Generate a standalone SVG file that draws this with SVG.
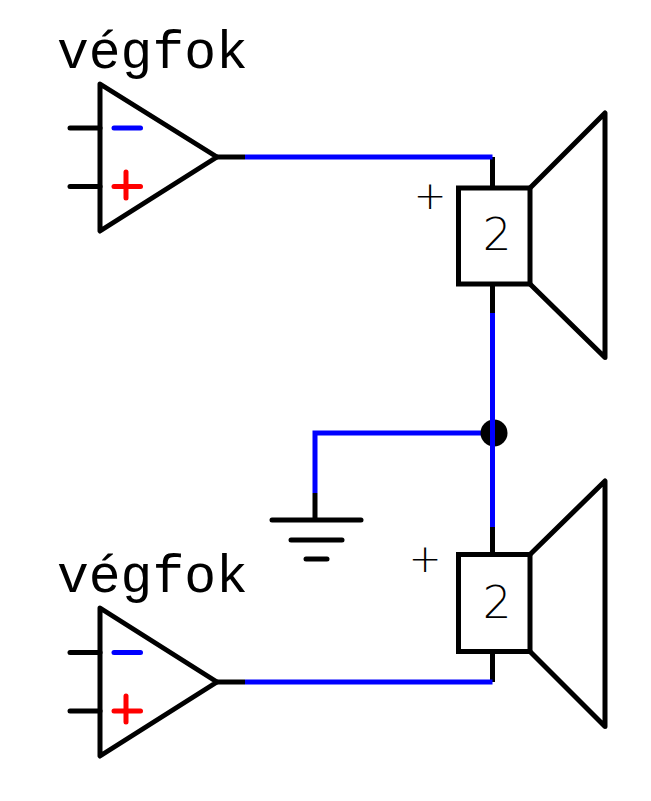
<svg xmlns="http://www.w3.org/2000/svg" width="651" height="801" viewBox="0 0 651 801">
<style>
.k{stroke:#000;stroke-width:5;fill:none;stroke-linecap:round;stroke-linejoin:round}
.kb{stroke:#000;stroke-width:5;fill:none;stroke-linecap:butt;stroke-linejoin:miter}
.b{stroke:#0000ff;stroke-width:5;fill:none;stroke-linecap:butt;stroke-linejoin:miter}
.r{stroke:#ff0000;stroke-width:5;fill:none;stroke-linecap:round}
.m{stroke:#0000ff;stroke-width:5;fill:none;stroke-linecap:round}
.lbl{font-family:"Liberation Mono","DejaVu Sans Mono",monospace;font-size:53px;fill:#000}
.num{font-family:"DejaVu Sans","Liberation Sans",sans-serif;font-weight:200;font-size:45px;fill:#000;text-anchor:middle}
.pl{font-family:"DejaVu Sans","Liberation Sans",sans-serif;font-weight:200;font-size:39px;fill:#000;text-anchor:middle}
</style>
<rect width="651" height="801" fill="#fff"/>
<g id="amp1">
<text class="lbl" x="57" y="68">végfok</text>
<polygon class="k" points="100,84 217,157 100,231"/>
<line class="k" x1="70" y1="128" x2="100" y2="128"/>
<line class="k" x1="70" y1="186.5" x2="100" y2="186.5"/>
<line class="m" x1="114" y1="128" x2="140.5" y2="128"/>
<line class="r" x1="114" y1="186.5" x2="140.5" y2="186.5"/>
<line class="r" x1="126" y1="172" x2="126" y2="198"/>
<line class="kb" x1="217" y1="157" x2="245" y2="157"/>
</g>
<g id="amp2">
<text class="lbl" x="57" y="592">végfok</text>
<polygon class="k" points="100,608 217,682 100,756"/>
<line class="k" x1="70" y1="652.5" x2="100" y2="652.5"/>
<line class="k" x1="70" y1="711" x2="100" y2="711"/>
<line class="m" x1="114" y1="652.5" x2="140.5" y2="652.5"/>
<line class="r" x1="114" y1="711" x2="140.5" y2="711"/>
<line class="r" x1="126" y1="696" x2="126" y2="722"/>
<line class="kb" x1="217" y1="682" x2="245" y2="682"/>
</g>
<g id="spk1">
<rect class="kb" x="458.5" y="188" width="71.5" height="96"/>
<polyline class="k" points="530,188 605,113 605,357.5 530,284"/>
<line class="kb" x1="492.5" y1="157" x2="492.5" y2="188"/>
<line class="kb" x1="492.5" y1="284" x2="492.5" y2="313"/>
<text class="num" x="497" y="250">2</text>
<text class="pl" x="430" y="209">+</text>
</g>
<g id="spk2">
<rect class="kb" x="458.5" y="554.5" width="71.5" height="97"/>
<polyline class="k" points="530,554.5 605,481 605,726.5 530,651.5"/>
<line class="kb" x1="492.5" y1="527" x2="492.5" y2="554.5"/>
<line class="kb" x1="492.5" y1="651.5" x2="492.5" y2="682"/>
<text class="num" x="497" y="618">2</text>
<text class="pl" x="425" y="572">+</text>
</g>
<g id="ground">
<line class="kb" x1="315" y1="493" x2="315" y2="520"/>
<line class="k" x1="272" y1="520" x2="361" y2="520"/>
<line class="k" x1="291" y1="540" x2="342" y2="540"/>
<line class="k" x1="306" y1="559" x2="327" y2="559"/>
</g>
<g id="connectors">
<polyline class="b" points="245,157 492.5,157"/>
<polyline class="b" points="245,682 492.5,682"/>
<line class="b" x1="492.5" y1="313" x2="492.5" y2="527"/>
<polyline class="b" points="492.5,433 315,433 315,493"/>
<circle id="junction" cx="494" cy="433" r="13.5" fill="#000"/>
<line class="b" x1="492.5" y1="313" x2="492.5" y2="527"/>
</g>
</svg>
